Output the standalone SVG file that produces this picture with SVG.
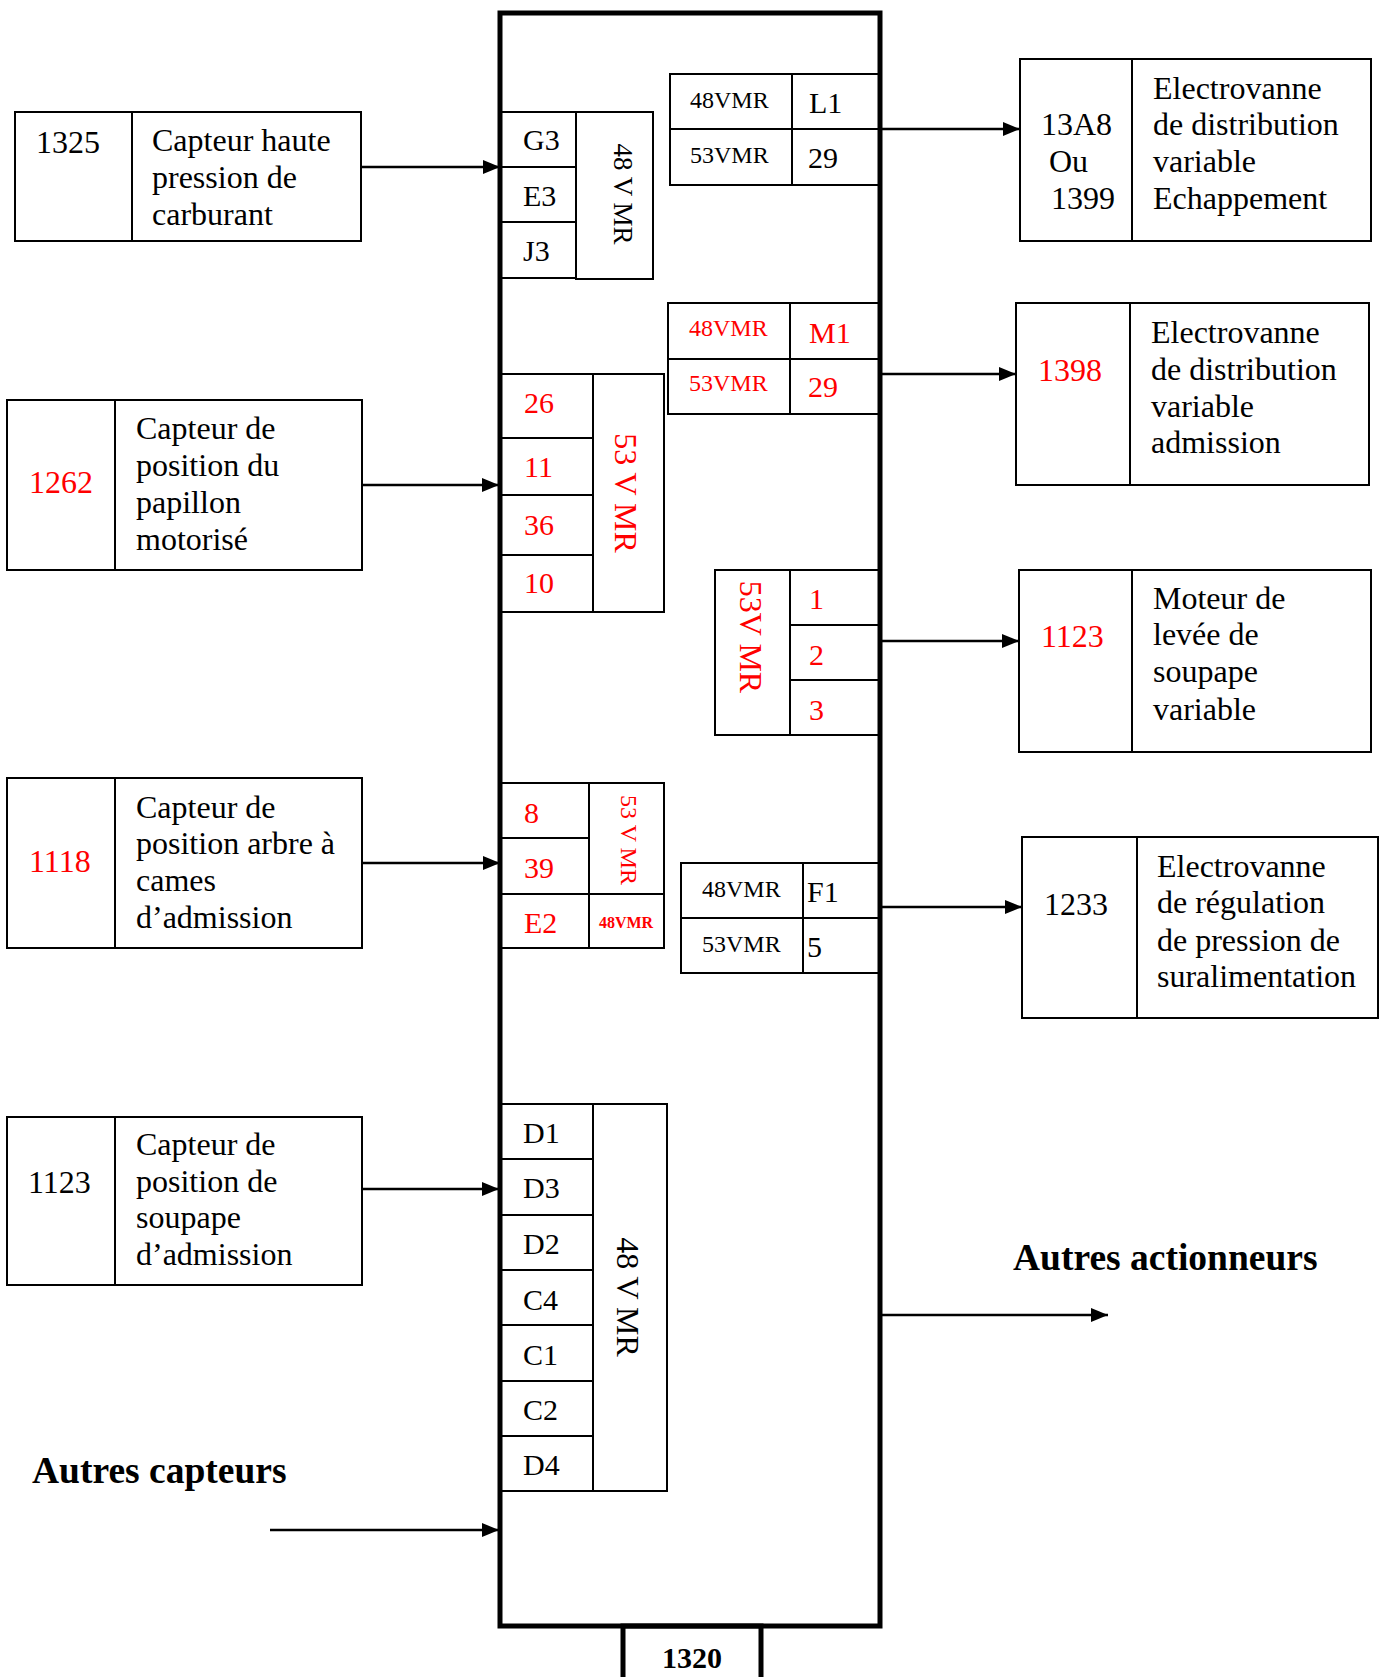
<svg xmlns="http://www.w3.org/2000/svg" width="1388" height="1677" viewBox="0 0 1388 1677">
<style>
text{font-family:"Liberation Serif","Times New Roman",serif;fill:#000}
.r{fill:#ff0000}
.t32{font-size:32px}
.t30{font-size:30px}
.t24{font-size:24px}
.b{font-weight:bold}
.box{fill:none;stroke:#000;stroke-width:2}
.cell{fill:none;stroke:#000;stroke-width:2}
.ecu{fill:none;stroke:#000;stroke-width:5}
.wire{fill:none;stroke:#000;stroke-width:2.5}
</style>
<defs>
<marker id="ah" markerUnits="userSpaceOnUse" markerWidth="17" markerHeight="14" refX="17" refY="7" orient="auto">
<path d="M0,0 L17,7 L0,14 z" fill="#000"/>
</marker>
</defs>
<rect width="1388" height="1677" fill="#fff"/>

<g id="conn-g3">
<rect class="cell" x="500" y="112" width="76" height="55"/>
<rect class="cell" x="500" y="167" width="76" height="55"/>
<rect class="cell" x="500" y="222" width="76" height="56"/>
<rect class="cell" x="576" y="112" width="77" height="167"/>
<text class="t30" x="523" y="150">G3</text>
<text class="t30" x="523" y="206">E3</text>
<text class="t30" x="523" y="261">J3</text>
<text class="t30" transform="translate(623,194) rotate(90)" x="0" y="9" text-anchor="middle" style="font-size:27px">48 V MR</text>
</g>

<g id="conn-l1">
<rect class="cell" x="670" y="74" width="122" height="55"/>
<rect class="cell" x="792" y="74" width="88" height="55"/>
<rect class="cell" x="670" y="129" width="122" height="56"/>
<rect class="cell" x="792" y="129" width="88" height="56"/>
<text class="t24" x="690" y="108">48VMR</text>
<text class="t30" x="809" y="113">L1</text>
<text class="t24" x="690" y="163">53VMR</text>
<text class="t30" x="808" y="168">29</text>
</g>

<g id="conn-m1">
<rect class="cell" x="668" y="303" width="122" height="56"/>
<rect class="cell" x="790" y="303" width="90" height="56"/>
<rect class="cell" x="668" y="359" width="122" height="55"/>
<rect class="cell" x="790" y="359" width="90" height="55"/>
<text class="t24 r" x="689" y="336">48VMR</text>
<text class="t30 r" x="809" y="343">M1</text>
<text class="t24 r" x="689" y="391">53VMR</text>
<text class="t30 r" x="808" y="397">29</text>
</g>

<g id="conn-26">
<rect class="cell" x="500" y="374" width="93" height="64"/>
<rect class="cell" x="500" y="438" width="93" height="57"/>
<rect class="cell" x="500" y="495" width="93" height="60"/>
<rect class="cell" x="500" y="555" width="93" height="57"/>
<rect class="cell" x="593" y="374" width="71" height="238"/>
<text class="t30 r" x="524" y="413">26</text>
<text class="t30 r" x="524" y="477">11</text>
<text class="t30 r" x="524" y="535">36</text>
<text class="t30 r" x="524" y="593">10</text>
<text class="t32 r" transform="translate(625,493) rotate(90)" x="0" y="10.5" text-anchor="middle">53 V MR</text>
</g>

<g id="conn-123">
<rect class="cell" x="715" y="570" width="75" height="165"/>
<rect class="cell" x="790" y="570" width="90" height="55"/>
<rect class="cell" x="790" y="625" width="90" height="55"/>
<rect class="cell" x="790" y="680" width="90" height="55"/>
<text class="t30 r" x="809" y="609">1</text>
<text class="t30 r" x="809" y="665">2</text>
<text class="t30 r" x="809" y="720">3</text>
<text class="t32 r" transform="translate(750,637) rotate(90)" x="0" y="10.5" text-anchor="middle">53V MR</text>
</g>

<g id="conn-8">
<rect class="cell" x="500" y="783" width="89" height="55"/>
<rect class="cell" x="500" y="838" width="89" height="56"/>
<rect class="cell" x="500" y="894" width="89" height="54"/>
<rect class="cell" x="589" y="783" width="75" height="111"/>
<rect class="cell" x="589" y="894" width="75" height="54"/>
<text class="t30 r" x="524" y="823">8</text>
<text class="t30 r" x="524" y="878">39</text>
<text class="t30 r" x="524" y="933">E2</text>
<text class="t24 r" transform="translate(629,840) rotate(90)" x="0" y="8" text-anchor="middle">53 V MR</text>
<text class="r b" x="626" y="928" text-anchor="middle" style="font-size:16px">48VMR</text>
</g>

<g id="conn-f1">
<rect class="cell" x="681" y="863" width="122" height="55"/>
<rect class="cell" x="803" y="863" width="77" height="55"/>
<rect class="cell" x="681" y="918" width="122" height="55"/>
<rect class="cell" x="803" y="918" width="77" height="55"/>
<text class="t24" x="702" y="897">48VMR</text>
<text class="t30" x="807" y="902">F1</text>
<text class="t24" x="702" y="952">53VMR</text>
<text class="t30" x="807" y="957">5</text>
</g>

<g id="conn-d">
<rect class="cell" x="500" y="1104" width="93" height="55"/>
<rect class="cell" x="500" y="1159" width="93" height="56"/>
<rect class="cell" x="500" y="1215" width="93" height="55"/>
<rect class="cell" x="500" y="1270" width="93" height="55"/>
<rect class="cell" x="500" y="1325" width="93" height="56"/>
<rect class="cell" x="500" y="1381" width="93" height="55"/>
<rect class="cell" x="500" y="1436" width="93" height="55"/>
<rect class="cell" x="593" y="1104" width="74" height="387"/>
<text class="t30" x="523" y="1143">D1</text>
<text class="t30" x="523" y="1198">D3</text>
<text class="t30" x="523" y="1254">D2</text>
<text class="t30" x="523" y="1310">C4</text>
<text class="t30" x="523" y="1365">C1</text>
<text class="t30" x="523" y="1420">C2</text>
<text class="t30" x="523" y="1475">D4</text>
<text class="t32" transform="translate(627,1297) rotate(90)" x="0" y="10.5" text-anchor="middle">48 V MR</text>
</g>

<g id="ecu">
<rect class="ecu" x="500" y="13" width="380" height="1613"/>
</g>
<g id="n1320">
<rect class="ecu" x="623" y="1626" width="138" height="80"/>
<text class="t30 b" x="692" y="1668" text-anchor="middle">1320</text>
</g>

<g id="n1325">
<rect class="box" x="15" y="112" width="346" height="129"/>
<line class="box" x1="132" y1="112" x2="132" y2="241"/>
<text class="t32" x="36" y="153">1325</text>
<text class="t32" x="152" y="151">Capteur haute</text>
<text class="t32" x="152" y="188">pression de</text>
<text class="t32" x="152" y="225">carburant</text>
</g>

<g id="n1262">
<rect class="box" x="7" y="400" width="355" height="170"/>
<line class="box" x1="115" y1="400" x2="115" y2="570"/>
<text class="t32 r" x="29" y="493">1262</text>
<text class="t32" x="136" y="439">Capteur de</text>
<text class="t32" x="136" y="476">position du</text>
<text class="t32" x="136" y="513">papillon</text>
<text class="t32" x="136" y="550">motorisé</text>
</g>

<g id="n1118">
<rect class="box" x="7" y="778" width="355" height="170"/>
<line class="box" x1="115" y1="778" x2="115" y2="948"/>
<text class="t32 r" x="29" y="872">1118</text>
<text class="t32" x="136" y="818">Capteur de</text>
<text class="t32" x="136" y="854">position arbre à</text>
<text class="t32" x="136" y="891">cames</text>
<text class="t32" x="136" y="928">d’admission</text>
</g>

<g id="n1123a">
<rect class="box" x="7" y="1117" width="355" height="168"/>
<line class="box" x1="115" y1="1117" x2="115" y2="1285"/>
<text class="t32" x="28" y="1193">1123</text>
<text class="t32" x="136" y="1155">Capteur de</text>
<text class="t32" x="136" y="1192">position de</text>
<text class="t32" x="136" y="1228">soupape</text>
<text class="t32" x="136" y="1265">d’admission</text>
</g>

<g id="n13a8">
<rect class="box" x="1020" y="59" width="351" height="182"/>
<line class="box" x1="1132" y1="59" x2="1132" y2="241"/>
<text class="t32" x="1041" y="135">13A8</text>
<text class="t32" x="1049" y="172">Ou</text>
<text class="t32" x="1051" y="209">1399</text>
<text class="t32" x="1153" y="99">Electrovanne</text>
<text class="t32" x="1153" y="135">de distribution</text>
<text class="t32" x="1153" y="172">variable</text>
<text class="t32" x="1153" y="209">Echappement</text>
</g>

<g id="n1398">
<rect class="box" x="1016" y="303" width="353" height="182"/>
<line class="box" x1="1130" y1="303" x2="1130" y2="485"/>
<text class="t32 r" x="1038" y="381">1398</text>
<text class="t32" x="1151" y="343">Electrovanne</text>
<text class="t32" x="1151" y="380">de distribution</text>
<text class="t32" x="1151" y="417">variable</text>
<text class="t32" x="1151" y="453">admission</text>
</g>

<g id="n1123b">
<rect class="box" x="1019" y="570" width="352" height="182"/>
<line class="box" x1="1132" y1="570" x2="1132" y2="752"/>
<text class="t32 r" x="1041" y="647">1123</text>
<text class="t32" x="1153" y="609">Moteur de</text>
<text class="t32" x="1153" y="645">levée de</text>
<text class="t32" x="1153" y="682">soupape</text>
<text class="t32" x="1153" y="720">variable</text>
</g>

<g id="n1233">
<rect class="box" x="1022" y="837" width="356" height="181"/>
<line class="box" x1="1137" y1="837" x2="1137" y2="1018"/>
<text class="t32" x="1044" y="915">1233</text>
<text class="t32" x="1157" y="877">Electrovanne</text>
<text class="t32" x="1157" y="913">de régulation</text>
<text class="t32" x="1157" y="951">de pression de</text>
<text class="t32" x="1157" y="987">suralimentation</text>
</g>

<g id="autres-capteurs">
<text class="b" x="32" y="1483" style="font-size:37.5px">Autres capteurs</text>
</g>
<g id="autres-actionneurs">
<text class="b" x="1013" y="1270" style="font-size:37.5px">Autres actionneurs</text>
</g>

<g id="connectors">
<line class="wire" x1="361" y1="167" x2="500" y2="167" marker-end="url(#ah)"/>
<line class="wire" x1="362" y1="485" x2="499" y2="485" marker-end="url(#ah)"/>
<line class="wire" x1="362" y1="863" x2="500" y2="863" marker-end="url(#ah)"/>
<line class="wire" x1="362" y1="1189" x2="499" y2="1189" marker-end="url(#ah)"/>
<line class="wire" x1="270" y1="1530" x2="499" y2="1530" marker-end="url(#ah)"/>
<line class="wire" x1="880" y1="129" x2="1020" y2="129" marker-end="url(#ah)"/>
<line class="wire" x1="880" y1="374" x2="1016" y2="374" marker-end="url(#ah)"/>
<line class="wire" x1="880" y1="641" x2="1019" y2="641" marker-end="url(#ah)"/>
<line class="wire" x1="880" y1="907" x2="1022" y2="907" marker-end="url(#ah)"/>
<line class="wire" x1="880" y1="1315" x2="1108" y2="1315" marker-end="url(#ah)"/>
</g>
</svg>
